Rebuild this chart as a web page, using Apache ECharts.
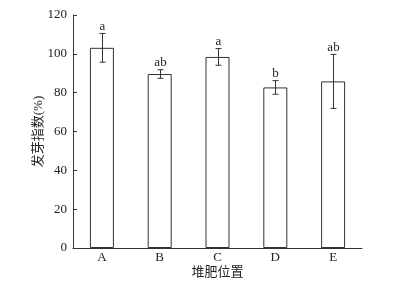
<!DOCTYPE html>
<html><head><meta charset="utf-8">
<script src="https://cdn.jsdelivr.net/npm/echarts@6/dist/echarts.min.js"></script>
<style>html,body{margin:0;padding:0;background:#fff}#c{width:398px;height:285px}</style>
</head><body><div id="c"></div>
<script>
const categories = ['A', 'B', 'C', 'D', 'E'];
const values = [103.1, 89.6, 98.4, 82.7, 85.8];
const errors = [7.4, 2.2, 4.3, 3.5, 13.9];
const letters = ['a', 'ab', 'a', 'b', 'ab'];
const yTicks = [0, 20, 40, 60, 80, 100, 120];

const FONT = 'Liberation Serif, "Times New Roman", "Noto Sans CJK SC", serif';
const LINE = '#333';
const chart = echarts.init(document.getElementById('c'), null, {renderer: 'canvas'});
chart.setOption({
  animation: false,
  grid: {left: 73, right: 36, top: 15, bottom: 37, containLabel: false, outerBoundsMode: 'none'},
  xAxis: {
    type: 'category', data: categories,
    axisLine: {lineStyle: {color: LINE, width: 1}},
    axisTick: {show: false},
    axisLabel: {color: '#222', fontSize: 13, fontFamily: FONT, margin: 3},
    name: '堆肥位置', nameLocation: 'middle', nameGap: 18, nameMoveOverlap: false,
    nameTextStyle: {color: '#222', fontSize: 13, fontFamily: FONT}
  },
  yAxis: {
    type: 'value', min: yTicks[0], max: yTicks[yTicks.length - 1], interval: 20,
    axisLine: {show: true, lineStyle: {color: LINE, width: 1}},
    axisTick: {show: true, inside: true, length: 4, lineStyle: {color: LINE}},
    splitLine: {show: false},
    axisLabel: {color: '#222', fontSize: 13, fontFamily: FONT, margin: 6},
    name: '发芽指数(%)', nameLocation: 'middle', nameGap: 28, nameMoveOverlap: false,
    nameTextStyle: {color: '#222', fontSize: 13, fontFamily: FONT}
  },
  series: [
    {
      type: 'bar', data: values, barWidth: 24,
      itemStyle: {color: '#fff', borderColor: LINE, borderWidth: 1}
    },
    {
      type: 'custom',
      data: values.map((v, i) => [i, v - errors[i], v + errors[i]]),
      renderItem: function (params, api) {
        const i = api.value(0);
        const lo = api.coord([i, api.value(1)]);
        const hi = api.coord([i, api.value(2)]);
        const x = Math.round(lo[0]) + 0.5;
        const hw = 3;
        const style = {stroke: LINE, lineWidth: 1};
        return {
          type: 'group',
          children: [
            {type: 'line', shape: {x1: x, y1: lo[1], x2: x, y2: hi[1]}, style},
            {type: 'line', shape: {x1: x - hw, y1: lo[1], x2: x + hw, y2: lo[1]}, style},
            {type: 'line', shape: {x1: x - hw, y1: hi[1], x2: x + hw, y2: hi[1]}, style},
            {type: 'text', style: {text: letters[params.dataIndex], x: x, y: hi[1] - 0.5,
              textAlign: 'center', textVerticalAlign: 'bottom', fill: '#222',
              font: '13px ' + FONT}}
          ]
        };
      },
      z: 5
    }
  ]
});
</script></body></html>
